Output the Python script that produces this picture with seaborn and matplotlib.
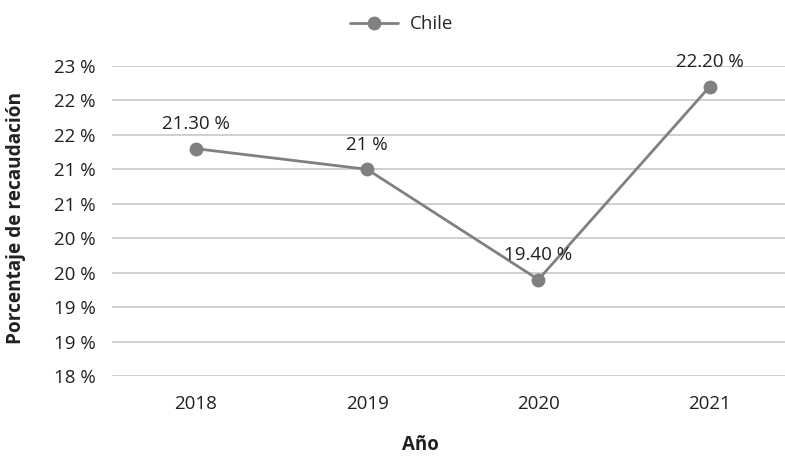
import pandas as pd
import seaborn as sns
import matplotlib.pyplot as plt
import numpy as np
from matplotlib.ticker import FuncFormatter

years = ["2018", "2019", "2020", "2021"]
chile = [21.3, 21.0, 19.4, 22.2]
point_labels = ["21.30 %", "21 %", "19.40 %", "22.20 %"]
ytick_values = [18.0, 18.5, 19.0, 19.5, 20.0, 20.5, 21.0, 21.5, 22.0, 22.5]

df = pd.DataFrame({"year": years, "value": chile, "serie": "Chile"})

sns.set_theme(style="white")
plt.rcParams["font.family"] = ["Open Sans", "DejaVu Sans"]

fig = plt.figure(figsize=(7.85, 4.57), dpi=100)
ax = fig.add_axes([112 / 785, 1 - 376 / 457, (785 - 112) / 785, (376 - 66) / 457])

gray = "#808080"
txt = "#231f20"
sns.lineplot(data=df, x="year", y="value", hue="serie", palette=[gray],
             marker="o", markersize=10, markeredgewidth=0, linewidth=2, ax=ax)

for i, (v, lab) in enumerate(zip(chile, point_labels)):
    ax.annotate(lab, (i, v), xytext=(0, 11), textcoords="offset points",
                ha="center", va="bottom", fontsize=13.5, color=txt)

ax.set_ylim(18.0, 22.5)
ax.set_yticks(ytick_values)
ax.yaxis.set_major_formatter(FuncFormatter(lambda v, p: f"{int(np.floor(v + 0.5))} %"))
ax.set_xlim(-0.49, 3.44)
ax.grid(axis="y", color="#c8c8c8", linewidth=1.2)
ax.grid(axis="x", visible=False)
for s in ax.spines.values():
    s.set_visible(False)
ax.tick_params(axis="both", length=0, labelsize=13.5, colors=txt, pad=12)
ax.tick_params(axis="x", pad=14)

ax.set_xlabel("Año", fontsize=13.5, fontweight="bold", color=txt)
ax.xaxis.set_label_coords((420 - 112) / 673, -0.19)
ax.set_ylabel("Porcentaje de recaudación", fontsize=13.7, fontweight="bold", color=txt)
ax.yaxis.set_label_coords(-(112 - 26) / 673, 0.51)

ax.legend(loc="center", bbox_to_anchor=(0.43, 1.135), frameon=False,
          fontsize=13.5, handlelength=2.6, handletextpad=0.6, title=None)

fig.savefig("out.png", dpi=100)
